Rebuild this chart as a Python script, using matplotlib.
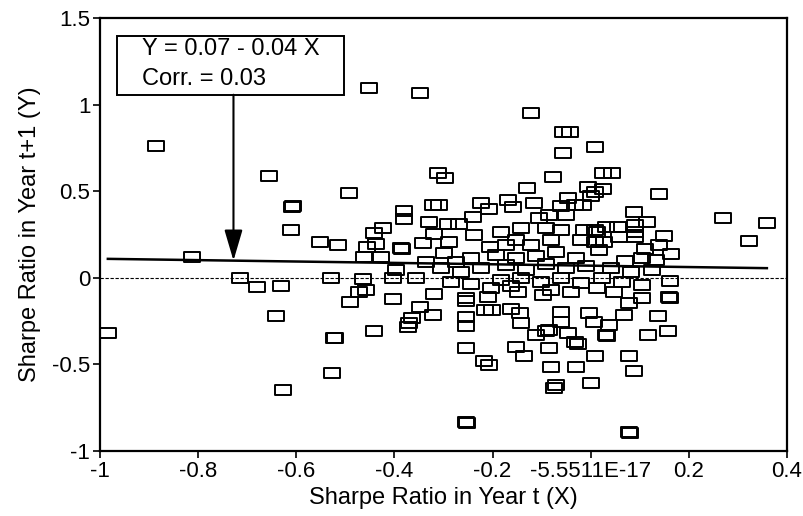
import matplotlib
matplotlib.use("Agg")
import matplotlib.pyplot as plt
from matplotlib.path import Path
from matplotlib.patches import Rectangle
import numpy as np

plt.rcParams['font.family'] = ['Liberation Sans', 'DejaVu Sans']

# Sharpe ratio in year t (X) and year t+1 (Y)
sharpe_t = [
    -0.984, -0.886, -0.812, -0.714, -0.681, -0.632, -0.642, -0.628, -0.655, -0.608,
    -0.606, -0.610, -0.552, -0.514, -0.530, -0.524, -0.522, -0.528, -0.493, -0.452,
    -0.348, -0.311, -0.297, -0.321, -0.309, -0.381, -0.381, -0.330, -0.291, -0.268,
    -0.240, -0.424, -0.442, -0.438, -0.455, -0.387, -0.384, -0.342, -0.319, -0.289,
    -0.299, -0.462, -0.428, -0.465, -0.403, -0.356, -0.397, -0.473, -0.458, -0.491,
    -0.403, -0.442, -0.319, -0.348, -0.321, -0.364, -0.371, -0.373, -0.254, -0.254,
    -0.254, -0.254, -0.254, -0.254, -0.252, -0.215, -0.201, -0.162, -0.144, -0.142,
    -0.111, -0.152, -0.136, -0.217, -0.207, -0.086, -0.080, -0.070, -0.074, -0.029,
    0.001, -0.025, -0.033, 0.008, -0.091, -0.084, -0.046, -0.060, -0.003, 0.006,
    -0.060, -0.097, -0.148, -0.209, 0.067, 0.038, 0.032, 0.034, 0.138, 0.116,
    0.157, 0.079, 0.089, 0.079, 0.080, 0.159, 0.161, 0.161, 0.104, 0.079,
    0.048, 0.008, 0.026, 0.044, 0.026, 0.001, 0.140, 0.269, 0.359, 0.322,
    0.089, 0.114, 0.032, 0.055, 0.091, 0.091, 0.091, 0.149, 0.140, 0.110,
    0.163, 0.069, 0.104, 0.134, 0.057, 0.008, 0.008, 0.016, 0.028, -0.121,
    -0.056, -0.042, -0.056, -0.076, -0.129, -0.005, 0.008, -0.223, -0.207, -0.168,
    -0.158, -0.115, -0.046, -0.060, -0.033, -0.015, -0.050, -0.238, -0.205, -0.105,
    -0.086, -0.013, -0.019, 0.012, -0.274, -0.244, -0.223, -0.193, -0.172, -0.152,
    -0.131, -0.111, -0.091, -0.070, -0.050, -0.029, -0.009, -0.183, -0.142, -0.101,
    -0.060, -0.019, 0.022, -0.244, -0.203, -0.162, -0.080, -0.040, 0.012, 0.063,
    0.104, 0.042, 0.083, 0.124, -0.264, -0.305, -0.336, -0.285, -0.121, -0.152,
    -0.183, -0.080, -0.060, -0.142, -0.091, -0.172,
]
sharpe_t1 = [
    -0.316, 0.759, 0.121, 0.000, -0.052, -0.046, -0.218, -0.649, 0.586, 0.408,
    0.414, 0.276, 0.207, 0.190, 0.000, -0.345, -0.350, -0.552, 0.489, 1.098,
    1.069, 0.603, 0.575, 0.420, 0.420, 0.385, 0.339, 0.322, 0.310, 0.310,
    0.351, 0.287, 0.259, 0.195, 0.178, 0.172, 0.167, 0.201, 0.253, 0.207,
    0.144, 0.121, 0.121, -0.006, 0.000, 0.000, 0.046, -0.080, -0.069, -0.138,
    -0.121, -0.305, -0.092, -0.167, -0.213, -0.230, -0.259, -0.282, -0.115, -0.132,
    -0.224, -0.276, -0.408, -0.833, -0.840, -0.184, -0.184, -0.178, -0.201, -0.259,
    -0.328, -0.402, -0.454, -0.483, -0.506, -0.408, -0.517, -0.621, -0.638, -0.517,
    -0.609, -0.385, -0.368, -0.454, -0.310, -0.299, -0.316, -0.253, -0.201, -0.253,
    -0.195, -0.098, -0.080, -0.109, -0.213, -0.270, -0.328, -0.335, -0.218, -0.333,
    -0.305, -0.454, -0.540, -0.891, -0.897, -0.109, -0.116, -0.017, -0.115, -0.144,
    -0.080, 0.753, 0.603, 0.603, 0.511, 0.471, 0.483, 0.345, 0.316, 0.213,
    0.379, 0.322, 0.293, 0.293, 0.305, 0.264, 0.236, 0.241, 0.190, 0.167,
    0.138, 0.098, 0.115, 0.103, 0.236, 0.276, 0.207, 0.161, 0.207, 0.954,
    0.839, 0.839, 0.718, 0.580, 0.517, 0.523, 0.494, 0.431, 0.397, 0.448,
    0.408, 0.431, 0.460, 0.414, 0.420, 0.420, 0.362, 0.247, 0.178, 0.345,
    0.362, 0.276, 0.218, 0.264, 0.092, 0.115, 0.057, 0.132, 0.075, 0.115,
    0.046, 0.126, 0.080, 0.149, 0.057, 0.115, 0.069, -0.011, 0.000, -0.023,
    0.000, -0.029, 0.000, -0.034, -0.057, -0.046, -0.069, -0.080, -0.057, -0.023,
    -0.040, 0.057, 0.034, 0.046, 0.034, 0.057, 0.092, -0.023, 0.190, 0.218,
    0.264, 0.218, 0.276, 0.287, 0.287, 0.190,
]

# fitted line and correlation as printed on the chart
intercept = 0.07
slope = -0.04
corr = 0.03

xticks = [-1, -0.8, -0.6, -0.4, -0.2, 0, 0.2, 0.4]
xtick_labels = ["-1", "-0.8", "-0.6", "-0.4", "-0.2", "-5.5511E-17", "0.2", "0.4"]
yticks = [-1, -0.5, 0, 0.5, 1, 1.5]
ytick_labels = ["-1", "-0.5", "0", "0.5", "1", "1.5"]

x = np.array(sharpe_t)
y = np.array(sharpe_t1)

fig = plt.figure(figsize=(8.04, 5.16), dpi=100)
ax = fig.add_axes([100 / 804, 65 / 516, 687 / 804, 433 / 516])

# flat hollow rectangle marker like the scanned one
rect = Path([(-1, -0.66), (1, -0.66), (1, 0.66), (-1, 0.66), (-1, -0.66)],
            [Path.MOVETO, Path.LINETO, Path.LINETO, Path.LINETO, Path.CLOSEPOLY])

ax.axhline(0, color="black", lw=0.8, ls=(0, (3, 1.5)), zorder=1)
ax.plot(x, y, ls="none", marker=rect, markersize=11, markerfacecolor="none",
        markeredgecolor="black", markeredgewidth=1.4, zorder=2)

xl = np.array([x.min(), x.max()])
ax.plot(xl, intercept + slope * xl, color="black", lw=1.8, zorder=3)

ax.set_xlim(-1, 0.4)
ax.set_ylim(-1, 1.5)
ax.set_xticks(xticks)
ax.set_xticklabels(xtick_labels)
ax.set_yticks(yticks)
ax.set_yticklabels(ytick_labels)
ax.tick_params(direction="out", length=5, width=1.2, labelsize=16, pad=2)
for s in ax.spines.values():
    s.set_linewidth(1.6)

ax.set_xlabel("Sharpe Ratio in Year t (X)", fontsize=17, labelpad=4)
ax.set_ylabel("Sharpe Ratio in Year t+1 (Y)", fontsize=17, labelpad=8)

# equation box with arrow pointing at the fitted line
ax.add_patch(Rectangle((-0.965, 1.057), 0.462, 0.34, facecolor="white",
                       edgecolor="black", lw=1.4, zorder=4))
sign = "-" if slope < 0 else "+"
ax.text(-0.914, 1.322, f"Y = {intercept:.2f} {sign} {abs(slope):.2f} X",
        fontsize=17, va="center", ha="left", zorder=5)
ax.text(-0.914, 1.149, f"Corr. = {corr:.2f}", fontsize=17, va="center",
        ha="left", zorder=5)
xa = -0.728
ax.annotate("", xy=(xa, intercept + slope * xa), xytext=(xa, 1.057),
            arrowprops=dict(arrowstyle="-|>,head_length=0.95,head_width=0.28",
                            color="black", lw=1.5, mutation_scale=20,
                            shrinkA=0, shrinkB=0), zorder=5)

fig.savefig("out.png", dpi=100)
